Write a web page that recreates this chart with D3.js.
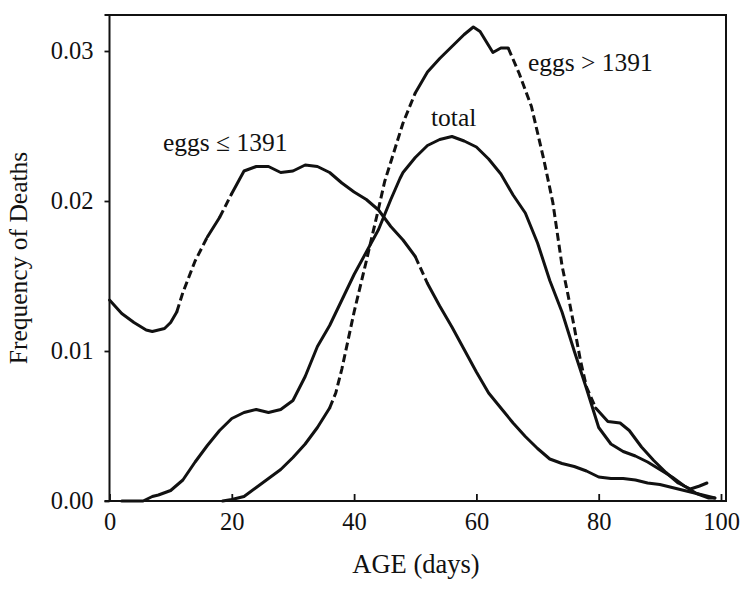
<!DOCTYPE html>
<html>
<head>
<meta charset="utf-8">
<script src="https://cdn.jsdelivr.net/npm/d3@7"></script>
<style>
  html, body { margin: 0; padding: 0; background: #fff; }
  text { font-family: "Liberation Serif", "Times New Roman", serif; fill: #111; }
</style>
</head>
<body>
<svg id="chart" width="750" height="592"></svg>
<script>
// ---- data ----
const agesLow = [0, 2, 4, 6, 7, 9, 10, 11, 12, 14, 16, 18, 20, 22, 24, 26, 28, 30, 32, 34, 36, 38, 40, 42, 44, 46, 48, 50, 52, 54, 56, 58, 60, 62, 64, 66, 68, 70, 72, 74, 76, 78, 80, 82, 84, 86, 88, 90, 92, 94, 96, 98, 99];
const freqLow = [0.0134, 0.0125, 0.0119, 0.0114, 0.0113, 0.0115, 0.0119, 0.0126, 0.0139, 0.0160, 0.0176, 0.0189, 0.0205, 0.0220, 0.0223, 0.0223, 0.0219, 0.0220, 0.0224, 0.0223, 0.0219, 0.0212, 0.0206, 0.0201, 0.0194, 0.0183, 0.0174, 0.0163, 0.0145, 0.0130, 0.0116, 0.0101, 0.0086, 0.0072, 0.0062, 0.0052, 0.0043, 0.0035, 0.0028, 0.0025, 0.0023, 0.0020, 0.0016, 0.0015, 0.0015, 0.0014, 0.0012, 0.0011, 0.0009, 0.0007, 0.0005, 0.0003, 0.0002];

const agesTotal = [2, 4, 5.5, 7, 8, 10, 12, 14, 16, 18, 20, 22, 24, 26, 28, 30, 32, 34, 36, 38, 40, 42, 44, 46, 47.5, 48, 50, 52, 54, 56, 58, 60, 62, 64, 66, 68, 70, 72, 74, 76, 78, 80, 82, 84, 86, 88, 90, 92, 94, 96, 98, 99];
const freqTotal = [0, 0, 0, 0.0003, 0.0004, 0.0007, 0.0014, 0.0026, 0.0037, 0.0047, 0.0055, 0.0059, 0.0061, 0.0059, 0.0061, 0.0067, 0.0083, 0.0103, 0.0117, 0.0134, 0.0151, 0.0166, 0.0181, 0.0201, 0.0215, 0.0219, 0.0229, 0.0237, 0.0241, 0.0243, 0.0240, 0.0236, 0.0228, 0.0218, 0.0204, 0.0192, 0.0172, 0.0147, 0.0126, 0.0100, 0.0075, 0.0049, 0.0038, 0.0033, 0.0030, 0.0026, 0.0021, 0.0016, 0.0010, 0.0005, 0.0002, 0.0002];

const agesHigh = [18.5, 20, 22, 24, 26, 28, 30, 32, 34, 36, 37, 38, 40, 42, 44, 45, 46, 48, 50, 52, 54, 56, 58, 59.5, 60.6, 62.7, 64, 65.2, 67, 69, 71, 72.5, 74, 75, 76, 77, 78, 79.5, 81.5, 83.5, 85, 87, 89, 91, 93, 95, 96.5, 97.7];
const freqHigh = [0, 0.0001, 0.0003, 0.0009, 0.0015, 0.0021, 0.0029, 0.0038, 0.0049, 0.0062, 0.0072, 0.0088, 0.0126, 0.0160, 0.0195, 0.0213, 0.0226, 0.0252, 0.0272, 0.0286, 0.0295, 0.0303, 0.0311, 0.0316, 0.0313, 0.0299, 0.0302, 0.0302, 0.0285, 0.0263, 0.0228, 0.0199, 0.0157, 0.0137, 0.0116, 0.0094, 0.0076, 0.0062, 0.0053, 0.0052, 0.0047, 0.0036, 0.0027, 0.0019, 0.0012, 0.0008, 0.0010, 0.0012];

const xTicks = [0, 20, 40, 60, 80, 100];
const yTicks = [0, 0.01, 0.02, 0.03];
const yTickLabels = ["0.00", "0.01", "0.02", "0.03"];
const seriesLabels = ["eggs \u2264 1391", "total", "eggs > 1391"];
const xTitle = "AGE (days)";
const yTitle = "Frequency of Deaths";

// ---- layout ----
const svg = d3.select("#chart");
const x = d3.scaleLinear().domain([0, 100]).range([109.5, 721]);
const y = d3.scaleLinear().domain([0, 0.03]).range([501, 51]);
const frameLeft = 109.5, frameRight = 726, frameTop = 15, frameBottom = 501;

// axes
const xAxis = d3.axisBottom(x).tickValues(xTicks).tickSizeInner(-7).tickSizeOuter(0).tickPadding(12).tickFormat(d3.format("d"));
const gx = svg.append("g").attr("transform", `translate(0,${frameBottom})`).call(xAxis);
gx.select(".domain").remove();
gx.selectAll(".tick line").attr("stroke", "#111").attr("stroke-width", 1.8);
gx.selectAll(".tick text").attr("font-size", 24.5).attr("font-family", "Liberation Serif").attr("fill", "#111");

const yAxis = d3.axisLeft(y).tickValues(yTicks).tickSizeInner(5).tickSizeOuter(0).tickPadding(11)
  .tickFormat((d, i) => yTickLabels[i]);
const gy = svg.append("g").attr("transform", `translate(${frameLeft},0)`).call(yAxis);
gy.select(".domain").remove();
gy.selectAll(".tick line").attr("stroke", "#111").attr("stroke-width", 1.8);
gy.selectAll(".tick text").attr("font-size", 24.5).attr("font-family", "Liberation Serif").attr("fill", "#111");

// frame
const frame = svg.append("g").attr("stroke", "#111").attr("stroke-width", 2).attr("fill", "none");
frame.append("line").attr("x1", frameLeft - 5).attr("x2", frameRight + 1).attr("y1", frameBottom).attr("y2", frameBottom);
frame.append("line").attr("x1", frameLeft).attr("x2", frameLeft).attr("y1", frameTop).attr("y2", frameBottom);
frame.append("line").attr("x1", frameLeft - 5).attr("x2", frameRight + 1).attr("y1", frameTop).attr("y2", frameTop);
frame.append("line").attr("x1", frameRight).attr("x2", frameRight).attr("y1", frameTop).attr("y2", frameBottom);

// curves
const line = d3.line().x(d => x(d[0])).y(d => y(d[1])).curve(d3.curveLinear);

function drawSeries(ages, freqs, dashedWhenSteep) {
  const pts = ages.map((a, i) => [a, freqs[i]]);
  const g = svg.append("g").attr("fill", "none").attr("stroke", "#111").attr("stroke-width", 3)
    .attr("stroke-linejoin", "round");
  if (!dashedWhenSteep) {
    g.append("path").attr("d", line(pts)).attr("stroke-linecap", "round");
    return;
  }
  const runs = [];
  for (let i = 0; i < pts.length - 1; i++) {
    const dx = x(pts[i + 1][0]) - x(pts[i][0]);
    const dy = y(pts[i + 1][1]) - y(pts[i][1]);
    const steep = Math.abs(dy / dx) > 1.95;
    if (runs.length && runs[runs.length - 1].steep === steep) {
      runs[runs.length - 1].pts.push(pts[i + 1]);
    } else {
      runs.push({ steep, pts: [pts[i], pts[i + 1]] });
    }
  }
  runs.forEach(r => {
    g.append("path").attr("d", line(r.pts))
      .attr("stroke-dasharray", r.steep ? "8,4" : null)
      .attr("stroke-linecap", r.steep ? "butt" : "round");
  });
}

drawSeries(agesLow, freqLow, true);
drawSeries(agesTotal, freqTotal, false);
drawSeries(agesHigh, freqHigh, true);

// labels
const lab = svg.append("g").attr("font-size", 25.5).attr("font-family", "Liberation Serif");
lab.append("text").attr("x", 163).attr("y", 151).text(seriesLabels[0]);
lab.append("text").attr("x", 431).attr("y", 126).text(seriesLabels[1]);
lab.append("text").attr("x", 528).attr("y", 71).text(seriesLabels[2]);

svg.append("text").attr("x", 416).attr("y", 573).attr("text-anchor", "middle")
  .attr("font-size", 26.5).text(xTitle);
svg.append("text").attr("transform", "translate(27,258) rotate(-90)").attr("text-anchor", "middle")
  .attr("font-size", 25.5).text(yTitle);
</script>
</body>
</html>
